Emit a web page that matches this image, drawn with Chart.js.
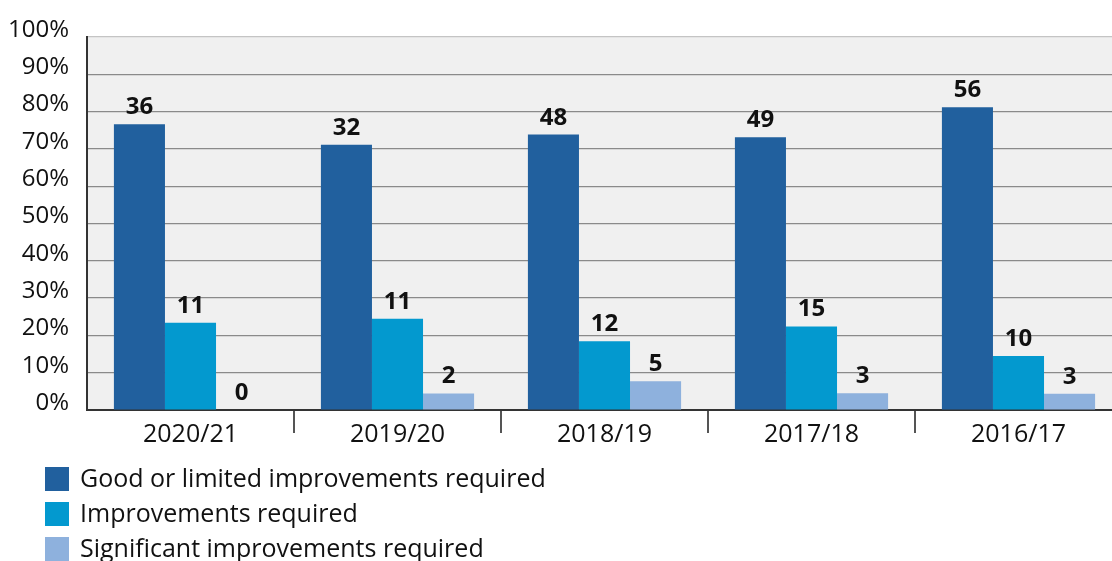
<!DOCTYPE html>
<html>
<head>
<meta charset="utf-8">
<script src="https://cdn.jsdelivr.net/npm/chart.js@4/dist/chart.umd.min.js"></script>
<style>
  html, body { margin: 0; padding: 0; background: #fff; overflow: hidden; }
  #wrap { width: 1112px; height: 561px; overflow: hidden; }
  #box { width: 1122px; height: 561px; }
</style>
</head>
<body>
<div id="wrap"><div id="box"><canvas id="chart"></canvas></div></div>
<script>
const years = ['2020/21', '2019/20', '2018/19', '2017/18', '2016/17'];
const goodCounts = [36, 32, 48, 49, 56];
const improveCounts = [11, 11, 12, 15, 10];
const significantCounts = [0, 2, 5, 3, 3];
const seriesNames = ['Good or limited improvements required', 'Improvements required', 'Significant improvements required'];
const seriesColors = ['#21609e', '#0399cf', '#8eb1dd'];

const totals = years.map((y, i) => goodCounts[i] + improveCounts[i] + significantCounts[i]);
const pct = counts => counts.map((c, i) => c / totals[i] * 100);
const allCounts = [goodCounts, improveCounts, significantCounts];

const FONT = '"Open Sans", "Noto Sans", sans-serif';

// grey plot background
const plotBg = {
  id: 'plotBg',
  beforeDraw(chart) {
    const a = chart.chartArea, c = chart.ctx;
    c.save();
    c.fillStyle = '#f0f0f0';
    c.fillRect(a.left, a.top, a.right - a.left, a.bottom - a.top);
    c.restore();
  }
};

// counts written above each bar
const countLabels = {
  id: 'countLabels',
  afterDatasetsDraw(chart) {
    const c = chart.ctx;
    c.save();
    c.font = 'bold 24px ' + FONT;
    c.fillStyle = '#111';
    c.textAlign = 'center';
    c.textBaseline = 'alphabetic';
    chart.data.datasets.forEach((ds, di) => {
      chart.getDatasetMeta(di).data.forEach((bar, i) => {
        c.fillText(String(allCounts[di][i]), bar.x, bar.y - 10);
      });
    });
    c.restore();
  }
};

// stacked legend under the axis
const sideLegend = {
  id: 'sideLegend',
  afterDraw(chart) {
    const c = chart.ctx;
    c.save();
    c.font = '25px ' + FONT;
    c.textBaseline = 'middle';
    chart.data.datasets.forEach((ds, i) => {
      const top = 467 + i * 35;
      c.fillStyle = ds.backgroundColor;
      c.fillRect(45, top, 24, 24);
      c.fillStyle = '#111';
      c.fillText(ds.label, 80, top + 13);
    });
    c.restore();
  }
};

new Chart(document.getElementById('chart'), {
  type: 'bar',
  data: {
    labels: years,
    datasets: [
      { label: seriesNames[0], data: pct(goodCounts), backgroundColor: seriesColors[0] },
      { label: seriesNames[1], data: pct(improveCounts), backgroundColor: seriesColors[1] },
      { label: seriesNames[2], data: pct(significantCounts), backgroundColor: seriesColors[2] }
    ]
  },
  options: {
    responsive: true,
    maintainAspectRatio: false,
    animation: false,
    layout: { padding: { top: 37, left: 0, right: 0, bottom: 0 } },
    datasets: { bar: { categoryPercentage: 0.74, barPercentage: 1 } },
    plugins: { legend: { display: false }, tooltip: { enabled: false } },
    scales: {
      x: {
        afterFit(scale) { scale.height = 151; },
        grid: {
          offset: true,
          drawOnChartArea: false,
          drawTicks: true,
          tickLength: 23,
          lineWidth: 2,
          color: ctx => ctx.index === 0 ? 'rgba(0,0,0,0)' : '#555'
        },
        border: { color: '#333', width: 2 },
        ticks: { color: '#111', font: { family: FONT, size: 25 }, padding: -13 }
      },
      y: {
        min: 0,
        max: 100,
        afterFit(scale) { scale.width = 87; },
        grid: {
          drawTicks: false,
          lineWidth: 1.2,
          color: ctx => ctx.tick && ctx.tick.value === 100 ? '#c4c4c4' : '#8a8a8a'
        },
        border: { color: '#333', width: 2 },
        ticks: {
          stepSize: 10,
          padding: 18,
          labelOffset: -7,
          color: '#111',
          font: { family: FONT, size: 24 },
          callback: v => v + '%'
        }
      }
    }
  },
  plugins: [plotBg, countLabels, sideLegend]
});
</script>
</body>
</html>
